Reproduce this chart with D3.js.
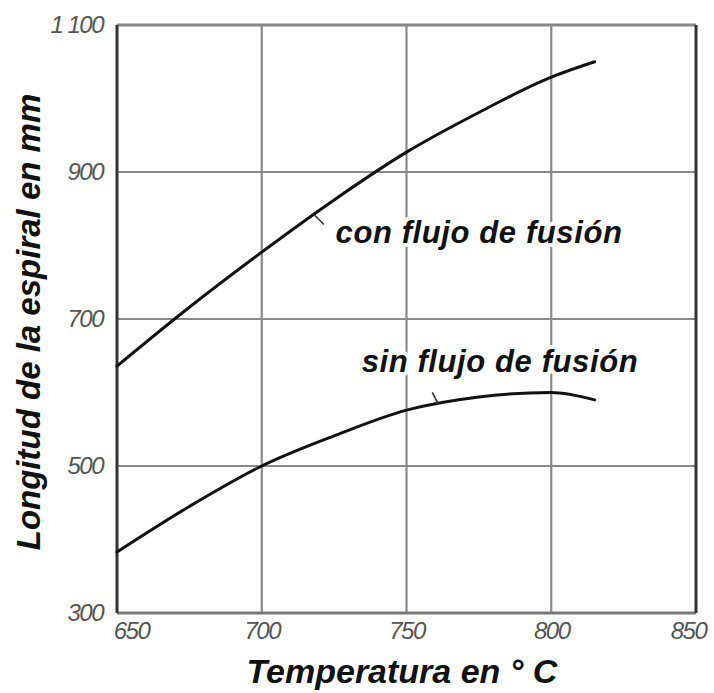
<!DOCTYPE html>
<html>
<head>
<meta charset="utf-8">
<script src="https://cdn.jsdelivr.net/npm/d3@7"></script>
<style>
  html, body { margin: 0; padding: 0; background: #fff; }
  svg { display: block; }
  text { font-family: "Liberation Sans", Arial, sans-serif; }
</style>
</head>
<body>
<svg id="chart" width="714" height="693"></svg>
<script>
// Spiral flow length vs. temperature, with and without flux
const temps      = [650, 675, 700, 725, 750, 775, 800, 815];
const conFlujo   = [636, 716, 791, 862, 927, 981, 1029, 1050];
const sinFlujo   = [383, 445, 500, 541, 576, 594, 600, 590];
const xTicks     = [650, 700, 750, 800, 850];
const yTicks     = [300, 500, 700, 900, 1100];
const seriesLabels = ["con flujo de fusión", "sin flujo de fusión"];
const xTitle = "Temperatura en ° C";
const yTitle = "Longitud de la espiral en mm";

const svg = d3.select("#chart");
const plotL = 117, plotR = 696, plotT = 25, plotB = 613;

const x = d3.scaleLinear().domain([650, 850]).range([plotL, plotR]);
const y = d3.scaleLinear().domain([300, 1100]).range([plotB, plotT]);

const es = d3.formatLocale({ decimal: ",", thousands: " ", grouping: [3], currency: ["", ""] });
const fmt = es.format(",d");

// grid
const grid = svg.append("g").attr("stroke", "#8a8a8a").attr("stroke-width", 2.2);
xTicks.slice(1, -1).forEach(t =>
  grid.append("line").attr("x1", x(t)).attr("x2", x(t)).attr("y1", plotT).attr("y2", plotB));
yTicks.slice(1, -1).forEach(t =>
  grid.append("line").attr("x1", plotL).attr("x2", plotR).attr("y1", y(t)).attr("y2", y(t)));

// frame
svg.append("line").attr("x1", plotL).attr("x2", plotR).attr("y1", plotT).attr("y2", plotT)
  .attr("stroke", "#888").attr("stroke-width", 3);
svg.append("line").attr("x1", plotL).attr("x2", plotR).attr("y1", plotB).attr("y2", plotB)
  .attr("stroke", "#777").attr("stroke-width", 3);
svg.append("line").attr("x1", plotL).attr("x2", plotL).attr("y1", plotT).attr("y2", plotB)
  .attr("stroke", "#333").attr("stroke-width", 3);
svg.append("line").attr("x1", plotR).attr("x2", plotR).attr("y1", plotT).attr("y2", plotB)
  .attr("stroke", "#333").attr("stroke-width", 3);

// axes (labels only; the frame carries the lines)
const xAxis = svg.append("g").attr("transform", `translate(0,${plotB})`)
  .call(d3.axisBottom(x).tickValues(xTicks).tickSize(0).tickPadding(9).tickFormat(d3.format("d")));
const yAxis = svg.append("g").attr("transform", `translate(${plotL},0)`)
  .call(d3.axisLeft(y).tickValues(yTicks).tickSize(0).tickPadding(14).tickFormat(fmt));
[xAxis, yAxis].forEach(a => {
  a.select(".domain").remove();
  a.selectAll("text")
    .attr("font-family", "'Liberation Sans', Arial, sans-serif")
    .attr("font-size", 24).attr("font-style", "italic").attr("fill", "#555")
    .attr("letter-spacing", "-1.5px");
});
xAxis.selectAll("text").attr("dy", "0.72em");
xAxis.selectAll("text").filter(d => d === 650).attr("dx", 14);
xAxis.selectAll("text").filter(d => d === 850).attr("dx", -8);

// curves
const line = d3.line().x((d, i) => x(temps[i])).y(d => y(d)).curve(d3.curveMonotoneX);
[conFlujo, sinFlujo].forEach(s =>
  svg.append("path").datum(s).attr("d", line)
    .attr("fill", "none").attr("stroke", "#111").attr("stroke-width", 3)
    .attr("stroke-linecap", "round"));

// leader ticks from curves to labels
const leaders = [
  { t: 718, v: conFlujo, dx: 10, dy: 10 },
  { t: 761, v: sinFlujo, dx: -6, dy: -12 }
];
leaders.forEach(l => {
  const i = d3.bisectLeft(temps, l.t);
  const f = (l.t - temps[i - 1]) / (temps[i] - temps[i - 1]);
  const vy = l.v[i - 1] + f * (l.v[i] - l.v[i - 1]);
  svg.append("line")
    .attr("x1", x(l.t)).attr("y1", y(vy))
    .attr("x2", x(l.t) + l.dx).attr("y2", y(vy) + l.dy)
    .attr("stroke", "#333").attr("stroke-width", 1.6);
});

// series labels
const labelPos = [{ t: 725.5, v: 803 }, { t: 734.5, v: 628 }];
seriesLabels.forEach((s, i) => {
  svg.append("text").text(s)
    .attr("x", x(labelPos[i].t)).attr("y", y(labelPos[i].v))
    .attr("font-size", 31).attr("font-style", "italic").attr("font-weight", "bold")
    .attr("letter-spacing", "0.6px")
    .attr("fill", "#111")
    .attr("stroke", "#fff").attr("stroke-width", 8).attr("paint-order", "stroke")
    .attr("stroke-linejoin", "round");
});

// axis titles
svg.append("text").text(xTitle)
  .attr("x", 402).attr("y", 683).attr("text-anchor", "middle")
  .attr("font-size", 34).attr("font-style", "italic").attr("font-weight", "bold").attr("fill", "#111");
svg.append("text").text(yTitle)
  .attr("transform", "translate(40,322) rotate(-90)").attr("text-anchor", "middle")
  .attr("font-size", 33).attr("font-style", "italic").attr("font-weight", "bold").attr("fill", "#111");
</script>
</body>
</html>
